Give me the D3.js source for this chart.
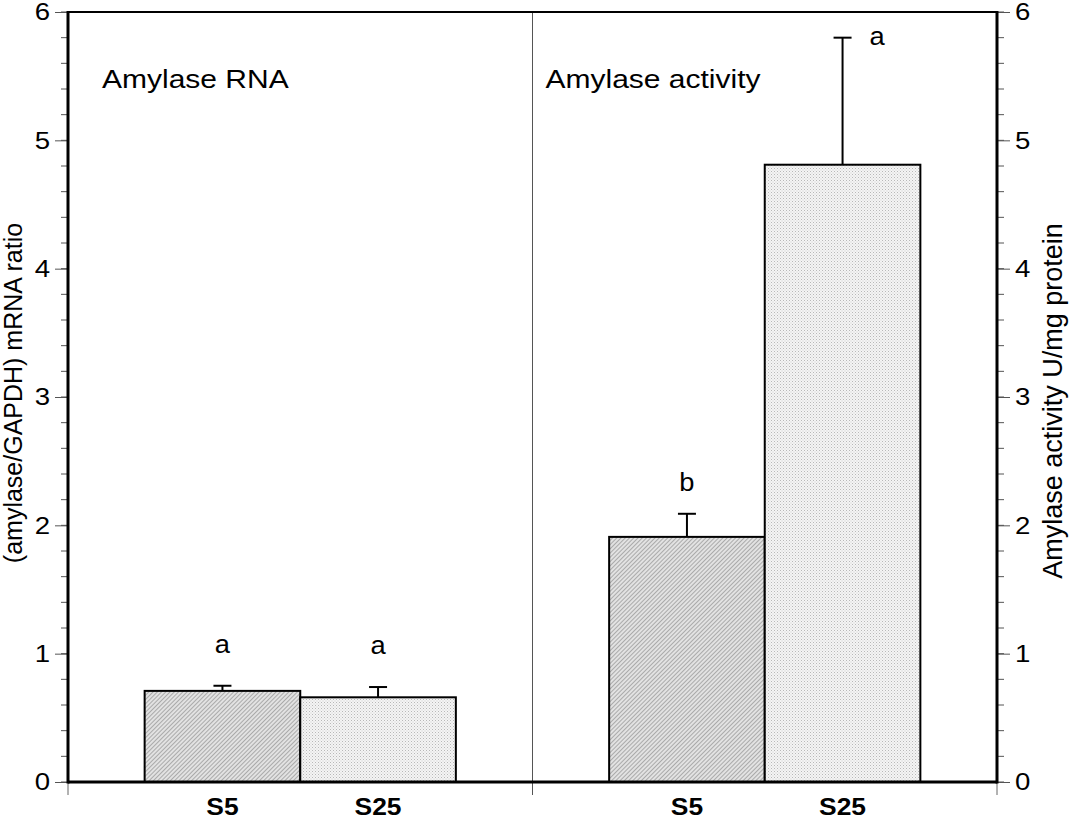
<!DOCTYPE html>
<html>
<head>
<meta charset="utf-8">
<script src="https://cdn.jsdelivr.net/npm/d3@7/dist/d3.min.js"></script>
<style>
  html, body { margin: 0; padding: 0; background: #fff; }
  svg { display: block; font-family: "Liberation Sans", Arial, sans-serif; }
</style>
</head>
<body>
<svg id="chart" width="1069" height="820"></svg>
<script>
// ---- data ----
const panels = ["Amylase RNA", "Amylase activity"];
const groups = ["S5", "S25"];
const rnaMeans = [0.71, 0.66];
const rnaErrors = [0.04, 0.08];
const rnaLetters = ["a", "a"];
const activityMeans = [1.91, 4.81];
const activityErrors = [0.18, 0.99];
const activityLetters = ["b", "a"];
const yTicks = [0, 1, 2, 3, 4, 5, 6];
const leftTitle = "(amylase/GAPDH) mRNA ratio";
const rightTitle = "Amylase activity U/mg protein";

const panelData = [
  { title: panels[0], means: rnaMeans, errors: rnaErrors, letters: rnaLetters },
  { title: panels[1], means: activityMeans, errors: activityErrors, letters: activityLetters }
];

// ---- layout ----
const svg = d3.select("#chart");
const L = 68, R = 997, T = 12, B = 782;

const y = d3.scaleLinear().domain([0, 6]).range([B, T]);
const xPanel = d3.scaleBand().domain(d3.range(panels.length)).range([L, R]).padding(0);
const barFrac = 0.335;

// text helper with horizontal stretch
function stext(sel, str, x, yy, size, sx, opts = {}) {
  const t = sel.append("text").text(str)
    .attr("transform", `translate(${x},${yy}) scale(${sx},1)`)
    .attr("font-size", size).attr("fill", "#000");
  if (opts.anchor) t.attr("text-anchor", opts.anchor);
  if (opts.weight) t.attr("font-weight", opts.weight);
  return t;
}

// patterns
const defs = svg.append("defs");
const hatch = defs.append("pattern").attr("id", "hatch")
  .attr("patternUnits", "userSpaceOnUse").attr("width", 3).attr("height", 3)
  .attr("patternTransform", "rotate(45)");
hatch.append("rect").attr("width", 3).attr("height", 3).attr("fill", "#e2e2e2");
hatch.append("line").attr("x1", 0).attr("y1", 0).attr("x2", 0).attr("y2", 3)
  .attr("stroke", "#858585").attr("stroke-width", 1.2);

const dots = defs.append("pattern").attr("id", "dots")
  .attr("patternUnits", "userSpaceOnUse").attr("width", 3).attr("height", 3);
dots.append("rect").attr("width", 3).attr("height", 3).attr("fill", "#f4f4f4");
dots.append("rect").attr("x", 0).attr("y", 0).attr("width", 1).attr("height", 1).attr("fill", "#b8b8b8");
dots.append("rect").attr("x", 1.5).attr("y", 1.5).attr("width", 1).attr("height", 1).attr("fill", "#cccccc");

const fills = ["url(#hatch)", "url(#dots)"];

// divider
const midX = xPanel(1);
svg.append("line").attr("x1", midX).attr("x2", midX).attr("y1", T).attr("y2", B + 13)
  .attr("stroke", "#555").attr("stroke-width", 1);
// bottom ticks at edges
[L, R].forEach(xx => {
  svg.append("line").attr("x1", xx).attr("x2", xx).attr("y1", B).attr("y2", B + 13)
    .attr("stroke", "#666").attr("stroke-width", 1);
});

const titleOffsets = [34, 13];

// bars
panelData.forEach((p, pi) => {
  const x0 = xPanel(pi), w = xPanel.bandwidth();
  const cx = x0 + w / 2;
  const bw = w * barFrac;
  const xb = d3.scaleBand().domain(groups).range([cx - bw, cx + bw]).padding(0);
  const g = svg.append("g");

  groups.forEach((gname, gi) => {
    const v = p.means[gi], e = p.errors[gi];
    const bx = xb(gname), bwid = xb.bandwidth();
    g.append("rect").attr("x", bx).attr("y", y(v)).attr("width", bwid).attr("height", y(0) - y(v))
      .attr("fill", fills[gi]).attr("stroke", "#000").attr("stroke-width", 2);
    const ex = bx + bwid / 2;
    g.append("line").attr("x1", ex).attr("x2", ex).attr("y1", y(v)).attr("y2", y(v + e))
      .attr("stroke", "#000").attr("stroke-width", 2);
    g.append("line").attr("x1", ex - 9).attr("x2", ex + 9).attr("y1", y(v + e)).attr("y2", y(v + e))
      .attr("stroke", "#000").attr("stroke-width", 2);
    // significance letter
    const top = y(v + e);
    if (top < 60) {
      stext(g, p.letters[gi], ex + 27, top + 7, 26, 1.05, { anchor: "start" });
    } else {
      stext(g, p.letters[gi], ex, top - (pi === 0 ? 33 : 23), 26, 1.05, { anchor: "middle" });
    }
    // x label
    stext(g, gname, ex, 815, 24, 1.1, { anchor: "middle", weight: "bold" });
  });

  stext(svg, p.title, x0 + titleOffsets[pi], 88, 25, 1.2, { anchor: "start" });
});

// top border
svg.append("line").attr("x1", L).attr("x2", R).attr("y1", T).attr("y2", T)
  .attr("stroke", "#000").attr("stroke-width", 2);

// axes
const minorTicks = d3.range(0, 6.001, 0.2);
const tickSX = 1.15;
const leftAxis = svg.append("g").attr("transform", `translate(${L},0)`);
leftAxis.selectAll("line.minor").data(minorTicks).join("line")
  .attr("x1", -7).attr("x2", 0).attr("y1", d => y(d)).attr("y2", d => y(d))
  .attr("stroke", "#555").attr("stroke-width", 1);
leftAxis.call(d3.axisLeft(y).tickValues(yTicks).tickSize(13).tickPadding(5).tickFormat(d3.format("d")));
const rightAxis = svg.append("g").attr("transform", `translate(${R},0)`);
rightAxis.selectAll("line.minor").data(minorTicks).join("line")
  .attr("x1", 0).attr("x2", 7).attr("y1", d => y(d)).attr("y2", d => y(d))
  .attr("stroke", "#555").attr("stroke-width", 1);
rightAxis.call(d3.axisRight(y).tickValues(yTicks).tickSize(13).tickPadding(5).tickFormat(d3.format("d")));

[[leftAxis, -1], [rightAxis, 1]].forEach(([a, s]) => {
  a.select(".domain").remove();
  a.selectAll(".tick line").attr("stroke", "#555").attr("stroke-width", 1);
  a.selectAll(".tick text").attr("font-size", 24).attr("fill", "#000")
    .attr("font-family", "Liberation Sans, Arial, sans-serif")
    .attr("x", s * 18 / tickSX).attr("transform", `scale(${tickSX},1)`);
});
// thick axis lines
svg.append("line").attr("x1", L).attr("x2", L).attr("y1", T - 1).attr("y2", B + 1.5)
  .attr("stroke", "#000").attr("stroke-width", 3);
svg.append("line").attr("x1", R).attr("x2", R).attr("y1", T - 1).attr("y2", B + 1.5)
  .attr("stroke", "#000").attr("stroke-width", 3);
svg.append("line").attr("x1", L).attr("x2", R).attr("y1", B).attr("y2", B)
  .attr("stroke", "#000").attr("stroke-width", 3);

// axis titles
svg.append("text").text(leftTitle).attr("transform", `translate(22,393) rotate(-90)`)
  .attr("text-anchor", "middle").attr("font-size", 25);
svg.append("text").text(rightTitle).attr("transform", `translate(1062,401) rotate(-90)`)
  .attr("text-anchor", "middle").attr("font-size", 27);
</script>
</body>
</html>
